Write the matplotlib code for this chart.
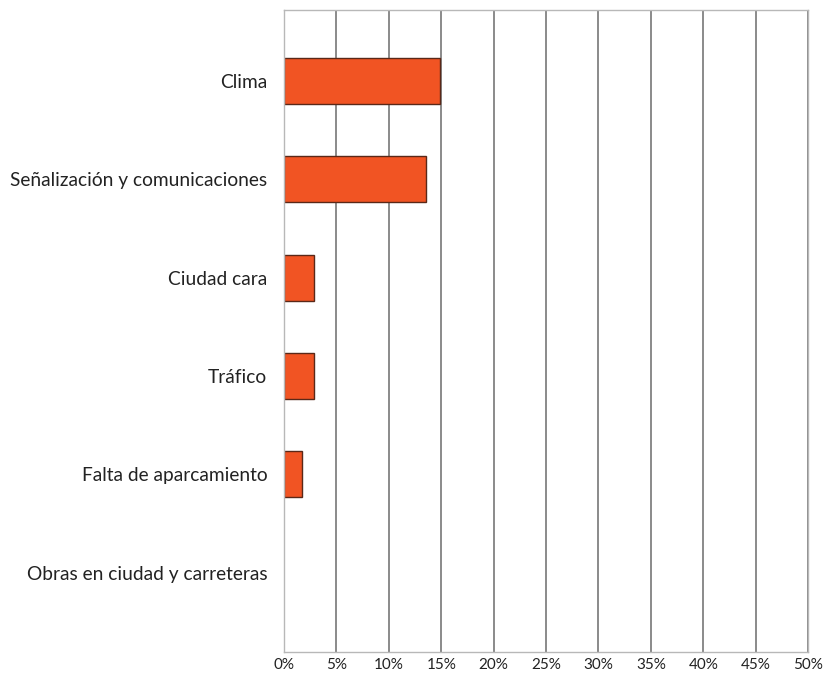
import matplotlib.pyplot as plt
import numpy as np

plt.rcParams['font.family'] = ['Lato', 'DejaVu Sans']

categories = ['Clima', 'Señalización y comunicaciones', 'Ciudad cara', 'Tráfico',
              'Falta de aparcamiento', 'Obras en ciudad y carreteras']
values = [14.9, 13.5, 2.9, 2.9, 1.7, 0.0]
xticks = [0, 5, 10, 15, 20, 25, 30, 35, 40, 45, 50]

fig = plt.figure(figsize=(8.28, 6.78), dpi=100)
ax = fig.add_axes([0.343, 0.038, 0.633, 0.947])

y = np.arange(len(categories))[::-1]
ax.set_axisbelow(True)
# no outline for empty bars
lw = [1.0 if v > 0 else 0 for v in values]
ax.barh(y, values, height=0.47, color='#F15423', edgecolor='#5a2818', linewidth=lw)

ax.set_xlim(0, 50)
ax.set_ylim(-0.81, 5.72)
ax.set_xticks(xticks)
ax.set_xticklabels(['%d%%' % t for t in xticks], fontsize=11, color='#222222')
ax.set_yticks(y)
ax.set_yticklabels(categories, fontsize=13.8, color='#222222')
ax.tick_params(axis='both', length=0)
ax.tick_params(axis='y', pad=12)
ax.tick_params(axis='x', pad=4)
ax.grid(axis='x', color='#8a8a8a', linewidth=1.4)

for s in ax.spines.values():
    s.set_color('#b8b8b8')
    s.set_linewidth(1.0)

plt.savefig('out.png', dpi=100)
